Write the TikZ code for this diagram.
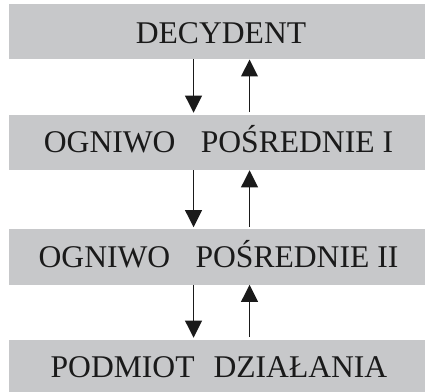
\documentclass[tikz,border=0pt]{standalone}
\usepackage{fontspec}
\setmainfont{Liberation Serif}
\usetikzlibrary{arrows.meta}
\definecolor{boxgray}{HTML}{C7C8CA}
\definecolor{ink}{HTML}{1A1A1A}
\begin{document}
\begin{tikzpicture}[x=0.75pt,y=-0.75pt,
  boxst/.style={fill=boxgray,draw=none,inner sep=0pt,minimum width=312pt,minimum height=41.25pt},
  lbl/.style={inner sep=0pt,anchor=base,text=ink,font=\fontsize{23.7pt}{26pt}\selectfont},
  arr/.style={draw=ink,line width=1.3pt,-{Triangle[length=12.75pt,width=12.5pt]}}]
\useasboundingbox (0,0) rectangle (425,392);
\begin{scope}
\clip (0,0) rectangle (425,392);
\node[boxst] (b1) at (217,31.7) {};
\node[boxst] (b2) at (217,142.5) {};
\node[boxst] (b3) at (217,257) {};
\node[boxst] (b4) at (217,367.5) {};
\end{scope}
\node[lbl] (t1) at (221,43.3) {DECYDENT};
\node[lbl] (t2) at (218.5,152.7) {OGNIWO\hspace{0.8em}POŚREDNIE I};
\node[lbl] (t3) at (218.5,267.7) {OGNIWO\hspace{0.8em}POŚREDNIE II};
\node[lbl] (t4) at (219,377.7) {PODMIOT\hspace{0.6em}DZIAŁANIA};
\foreach \a/\b in {b1/b2,b2/b3,b3/b4}{
  \draw[arr,shorten >=1.5pt] ([xshift=-17.6pt]\a.south) -- ([xshift=-17.6pt]\b.north);
  \draw[arr,shorten <=2pt] ([xshift=24.4pt]\b.north) -- ([xshift=24.4pt]\a.south);
}
\end{tikzpicture}
\end{document}
